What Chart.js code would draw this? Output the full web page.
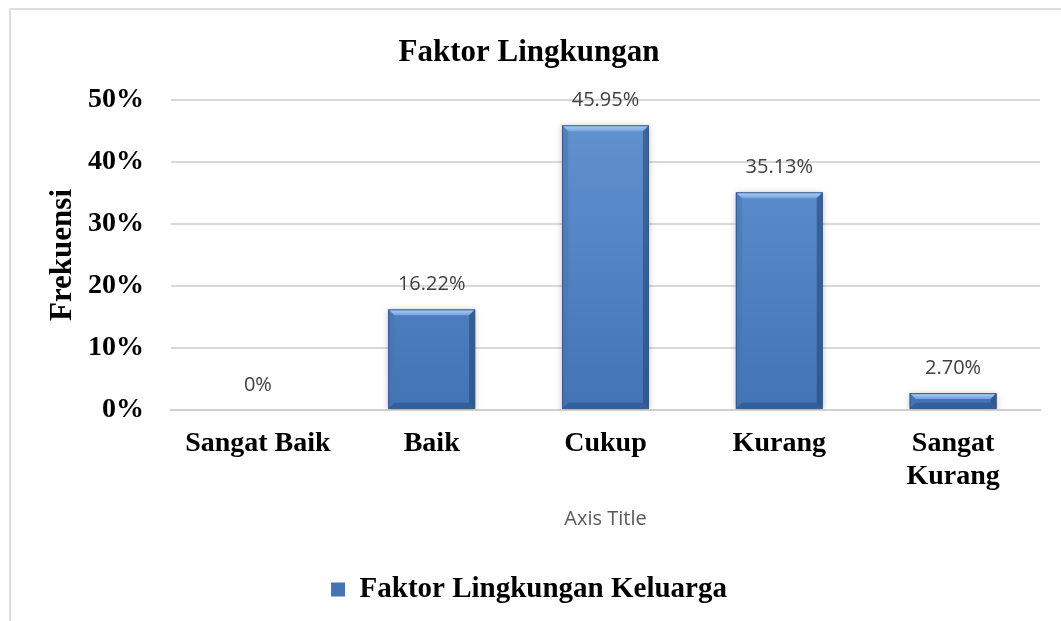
<!DOCTYPE html>
<html>
<head>
<meta charset="utf-8">
<script src="https://cdn.jsdelivr.net/npm/chart.js@4.4.1/dist/chart.umd.min.js"></script>
<style>
    body { margin: 0; background: #fff; }
    #wrap { position: relative; width: 1061px; height: 621px; overflow: hidden; }
    #frame { position: absolute; left: 9px; top: 8px; width: 1100px; height: 700px; border: 2px solid #dedede; }
    #chart { position: absolute; left: 0; top: 0; }
</style>
</head>
<body>
<div id="wrap">
    <div id="frame"></div>
    <canvas id="chart" width="1061" height="621"></canvas>
</div>
<script>
const categories = ['Sangat Baik', 'Baik', 'Cukup', 'Kurang', ['Sangat', 'Kurang']]
const values = [0, 16.22, 45.95, 35.13, 2.70]
const valueLabels = ['0%', '16.22%', '45.95%', '35.13%', '2.70%']
const yTicks = [0, 10, 20, 30, 40, 50]
const seriesName = 'Faktor Lingkungan Keluarga'

const serif = "'Liberation Serif', 'Times New Roman', serif"
const sans = "'Open Sans', 'Noto Sans', sans-serif"

// excel-ish bevel: shadow + light top edge + darker sides
const bevelPlugin = {
    id: 'bevel',
    beforeDatasetsDraw(chart) {
        const ctx = chart.ctx
        ctx.save()
        ctx.shadowColor = 'rgba(0, 0, 0, 0.25)'
        ctx.shadowBlur = 6
        ctx.shadowOffsetX = 0
        ctx.shadowOffsetY = 1
    },
    afterDatasetsDraw(chart) {
        const ctx = chart.ctx
        ctx.restore()
        const meta = chart.getDatasetMeta(0)
        meta.data.forEach((bar, i) => {
            if (!values[i]) return
            const left = bar.x - bar.width / 2
            const right = bar.x + bar.width / 2
            const top = bar.y
            const bottom = bar.base
            const b = Math.min(6, (bottom - top) / 2)
            ctx.save()
            // top bevel
            const tg = ctx.createLinearGradient(0, top, 0, top + b)
            tg.addColorStop(0, 'rgba(185, 215, 250, 0.95)')
            tg.addColorStop(1, 'rgba(120, 165, 225, 0.9)')
            ctx.fillStyle = tg
            ctx.beginPath()
            ctx.moveTo(left, top)
            ctx.lineTo(right, top)
            ctx.lineTo(right - b, top + b)
            ctx.lineTo(left + b, top + b)
            ctx.closePath()
            ctx.fill()
            // left bevel
            ctx.fillStyle = 'rgba(70, 115, 175, 0.5)'
            ctx.beginPath()
            ctx.moveTo(left, top)
            ctx.lineTo(left + b, top + b)
            ctx.lineTo(left + b, bottom - b)
            ctx.lineTo(left, bottom)
            ctx.closePath()
            ctx.fill()
            // right bevel
            ctx.fillStyle = 'rgba(35, 65, 115, 0.55)'
            ctx.beginPath()
            ctx.moveTo(right, top)
            ctx.lineTo(right - b, top + b)
            ctx.lineTo(right - b, bottom - b)
            ctx.lineTo(right, bottom)
            ctx.closePath()
            ctx.fill()
            // bottom bevel
            ctx.fillStyle = 'rgba(35, 70, 120, 0.45)'
            ctx.beginPath()
            ctx.moveTo(left, bottom)
            ctx.lineTo(left + b, bottom - b)
            ctx.lineTo(right - b, bottom - b)
            ctx.lineTo(right, bottom)
            ctx.closePath()
            ctx.fill()
            ctx.strokeStyle = '#34598c'
            ctx.lineWidth = 1
            ctx.strokeRect(left + 0.5, top + 0.5, bar.width - 1, bottom - top - 1)
            ctx.restore()
        })
    }
}

const valueLabelPlugin = {
    id: 'valueLabels',
    afterDatasetsDraw(chart) {
        const ctx = chart.ctx
        const meta = chart.getDatasetMeta(0)
        ctx.save()
        ctx.font = '20px ' + sans
        ctx.fillStyle = '#404040'
        ctx.textAlign = 'center'
        ctx.textBaseline = 'middle'
        meta.data.forEach((bar, i) => {
            ctx.fillText(valueLabels[i], bar.x, bar.y - 25)
        })
        ctx.restore()
    }
}

const ctx = document.getElementById('chart').getContext('2d')
const chart = new Chart(ctx, {
    type: 'bar',
    data: {
        labels: categories,
        datasets: [{
            label: seriesName,
            data: values,
            backgroundColor: (c) => {
                const area = c.chart.chartArea
                if (!area) return '#4a7ebf'
                const g = c.chart.ctx.createLinearGradient(0, area.top, 0, area.bottom)
                g.addColorStop(0, '#6393d0')
                g.addColorStop(1, '#4274b6')
                return g
            },
            borderWidth: 0,
            categoryPercentage: 1.0,
            barPercentage: 0.5
        }]
    },
    options: {
        responsive: false,
        animation: false,
        layout: {
            padding: { left: 18, right: 21, top: 0, bottom: 7 }
        },
        scales: {
            x: {
                grid: { display: false },
                border: { display: true, color: '#d0d0d0', width: 2 },
                ticks: {
                    color: '#000',
                    padding: 9,
                    maxRotation: 0,
                    font: { family: serif, size: 28, weight: 'bold' }
                },
                title: {
                    display: true,
                    text: 'Axis Title',
                    color: '#595959',
                    padding: { top: 4, bottom: 34 },
                    font: { family: sans, size: 20 }
                }
            },
            y: {
                min: 0,
                max: 50,
                afterBuildTicks: (axis) => {
                    axis.ticks = yTicks.map(v => ({ value: v }))
                },
                afterFit: (axis) => {
                    axis.width = 153
                },
                grid: { color: '#d9d9d9', lineWidth: 2, drawTicks: false },
                border: { display: false },
                ticks: {
                    color: '#000',
                    padding: 27,
                    callback: (v) => v + '%',
                    font: { family: serif, size: 28, weight: 'bold' }
                },
                title: {
                    display: true,
                    text: 'Frekuensi',
                    color: '#000',
                    padding: { top: 26, bottom: 8 },
                    font: { family: serif, size: 31, weight: 'bold' }
                }
            }
        },
        plugins: {
            title: {
                display: true,
                text: 'Faktor Lingkungan',
                color: '#000',
                padding: { top: 34, bottom: 29 },
                font: { family: serif, size: 31, weight: 'bold' }
            },
            legend: {
                position: 'bottom',
                labels: {
                    color: '#000',
                    boxWidth: 14,
                    boxHeight: 14,
                    font: { family: serif, size: 29, weight: 'bold' }
                }
            },
            tooltip: { enabled: false }
        }
    },
    plugins: [bevelPlugin, valueLabelPlugin]
})
</script>
</body>
</html>
